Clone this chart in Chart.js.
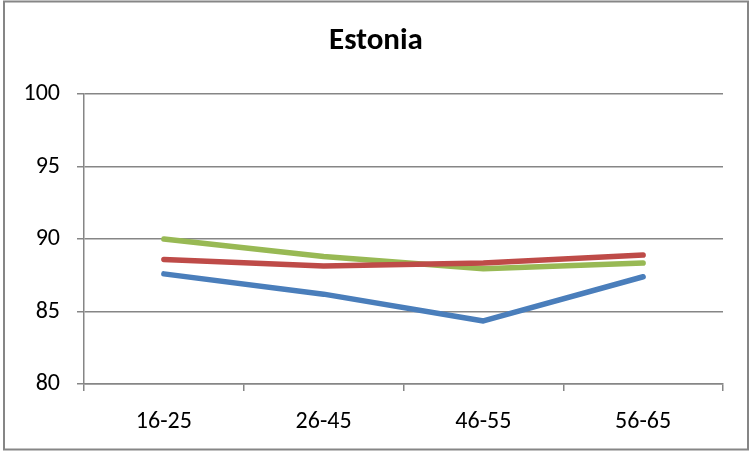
<!DOCTYPE html>
<html>
<head>
<meta charset="utf-8">
<script src="https://cdn.jsdelivr.net/npm/chart.js@4/dist/chart.umd.min.js"></script>
<style>
html,body{margin:0;padding:0;background:#fff;}
#wrap{width:752px;height:453px;}
</style>
</head>
<body>
<div id="wrap"><canvas id="c" width="752" height="453"></canvas></div>
<script>
const categories = ['16-25', '26-45', '46-55', '56-65'];
const blueValues = [87.6, 86.2, 84.35, 87.4];
const redValues = [88.6, 88.15, 88.35, 88.9];
const greenValues = [90.0, 88.8, 87.95, 88.35];
const yTicks = [80, 85, 90, 95, 100];
const titleText = 'Estonia';

const FONT = 'Carlito, Lato, "Liberation Sans", sans-serif';
const GRID = '#868686';

const borderPlugin = {
  id: 'outerBorder',
  beforeDraw(chart) {
    const ctx = chart.ctx;
    ctx.save();
    ctx.fillStyle = '#fff';
    ctx.fillRect(0, 0, chart.width, chart.height);
    ctx.strokeStyle = GRID;
    ctx.lineWidth = 2;
    ctx.strokeRect(4, 1.5, 744, 448);
    ctx.restore();
  }
};

new Chart(document.getElementById('c'), {
  type: 'line',
  data: {
    labels: categories,
    datasets: [
      { label: 'Series 1', data: blueValues, borderColor: '#4A7EBB' },
      { label: 'Series 2', data: redValues, borderColor: '#BE4B48' },
      { label: 'Series 3', data: greenValues, borderColor: '#98B954' }
    ].map(d => Object.assign(d, {
      borderWidth: 5.5, pointRadius: 0, tension: 0, fill: false,
      borderCapStyle: 'round', borderJoinStyle: 'round', yAxisID: 'y'
    }))
  },
  options: {
    responsive: false,
    animation: false,
    layout: { padding: { left: 0, right: 0, top: 0, bottom: 0 } },
    plugins: {
      legend: { display: false },
      tooltip: { enabled: false },
      title: {
        display: true,
        text: titleText,
        color: '#000',
        font: { family: FONT, size: 31, weight: 'bold', lineHeight: 1.2 },
        padding: { top: 23, bottom: 34 }
      }
    },
    scales: {
      x: {
        offset: true,
        grid: {
          offset: true, drawOnChartArea: false, drawTicks: true,
          tickLength: 7, color: GRID, lineWidth: 1.5
        },
        border: { display: true, color: GRID, width: 1.5 },
        ticks: { color: '#000', font: { family: FONT, size: 24 }, padding: 17, maxRotation: 0 },
        afterFit(scale) { scale.height = 69; }
      },
      y: {
        position: 'left',
        min: 80, max: 100,
        afterBuildTicks(scale) { scale.ticks = yTicks.map(v => ({ value: v })); },
        grid: { color: GRID, lineWidth: 1.5, drawTicks: true, tickLength: 7 },
        border: { display: true, color: GRID, width: 1.5 },
        ticks: { color: '#000', font: { family: FONT, size: 24 }, padding: 17 },
        afterFit(scale) { scale.width = 84; }
      },
      yRight: {
        position: 'right',
        min: 80, max: 100,
        grid: { display: false, drawOnChartArea: false, drawTicks: false },
        border: { display: false },
        ticks: { display: false },
        afterFit(scale) { scale.width = 29; }
      }
    }
  },
  plugins: [borderPlugin]
});
</script>
</body>
</html>
